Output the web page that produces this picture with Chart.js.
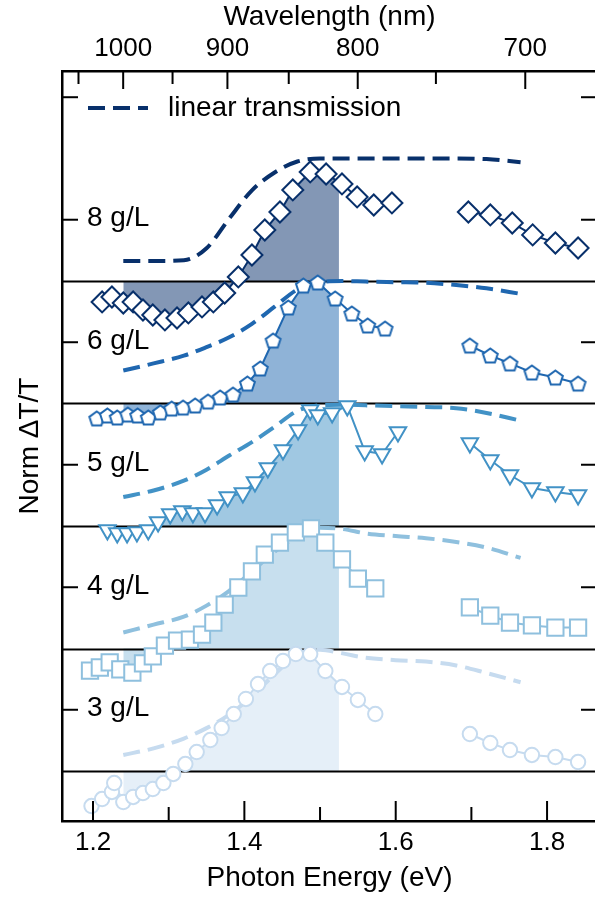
<!DOCTYPE html>
<html>
<head>
<meta charset="utf-8">
<script src="https://cdn.jsdelivr.net/npm/chart.js@4.4.1/dist/chart.umd.min.js"></script>
<style>
  html, body { margin: 0; padding: 0; background: #fff; }
  #wrap { width: 595px; height: 898px; overflow: hidden; }
</style>
</head>
<body>
<div id="wrap"><canvas id="myChart" width="600" height="898"></canvas></div>
<script>
'use strict';

// data (normalised dT/T, one panel per concentration)
let concLabels = ['8 g/L', '6 g/L', '5 g/L', '4 g/L', '3 g/L'];
let panelOffsets = [4, 3, 2, 1, 0];
let seriesColors = ['#08306b', '#1f67b0', '#4292c6', '#8fc0de', '#c6dbef'];
let shadeColors = ['rgba(8,48,107,0.5)', 'rgba(31,103,176,0.5)', 'rgba(66,146,198,0.5)', 'rgba(143,192,222,0.5)', 'rgba(198,219,239,0.45)'];

let e8 = [1.212, 1.225, 1.240, 1.253, 1.266, 1.279, 1.295, 1.311, 1.326, 1.344, 1.359, 1.374, 1.392, 1.410, 1.427, 1.447, 1.464, 1.487, 1.508, 1.529, 1.549, 1.571, 1.595, 1.696, 1.725, 1.754, 1.781, 1.811, 1.841];
let v8 = [-0.171, -0.131, -0.180, -0.171, -0.237, -0.278, -0.318, -0.302, -0.261, -0.212, -0.171, -0.098, 0.033, 0.212, 0.416, 0.563, 0.743, 0.890, 0.873, 0.792, 0.686, 0.620, 0.637, 0.563, 0.539, 0.473, 0.376, 0.310, 0.269];

let e6 = [1.205, 1.219, 1.232, 1.246, 1.259, 1.273, 1.289, 1.304, 1.319, 1.335, 1.352, 1.368, 1.385, 1.404, 1.421, 1.438, 1.458, 1.478, 1.497, 1.520, 1.542, 1.563, 1.586, 1.698, 1.725, 1.751, 1.780, 1.811, 1.841];
let v6 = [-0.122, -0.098, -0.114, -0.090, -0.098, -0.114, -0.073, -0.041, -0.033, -0.016, 0.016, 0.049, 0.073, 0.163, 0.286, 0.514, 0.784, 0.963, 0.988, 0.857, 0.735, 0.637, 0.612, 0.473, 0.392, 0.327, 0.253, 0.212, 0.163];

let e5 = [1.219, 1.232, 1.245, 1.258, 1.273, 1.286, 1.302, 1.318, 1.332, 1.348, 1.364, 1.378, 1.398, 1.414, 1.431, 1.451, 1.471, 1.487, 1.497, 1.516, 1.536, 1.559, 1.582, 1.603, 1.698, 1.725, 1.751, 1.780, 1.811, 1.841];
let v5 = [-0.033, -0.057, -0.057, -0.049, -0.033, 0.033, 0.098, 0.122, 0.106, 0.106, 0.171, 0.237, 0.269, 0.359, 0.473, 0.620, 0.784, 0.947, 0.906, 0.922, 0.980, 0.612, 0.588, 0.767, 0.678, 0.539, 0.416, 0.310, 0.278, 0.253];

let e4 = [1.196, 1.209, 1.222, 1.236, 1.252, 1.266, 1.279, 1.295, 1.311, 1.328, 1.344, 1.359, 1.374, 1.392, 1.410, 1.427, 1.447, 1.468, 1.488, 1.507, 1.529, 1.550, 1.573, 1.698, 1.725, 1.751, 1.780, 1.811, 1.841];
let v4 = [-0.180, -0.155, -0.114, -0.171, -0.196, -0.122, -0.065, 0.024, 0.065, 0.073, 0.114, 0.212, 0.359, 0.498, 0.629, 0.767, 0.865, 0.947, 0.980, 0.865, 0.727, 0.571, 0.490, 0.335, 0.269, 0.212, 0.188, 0.171, 0.171];

let e3 = [1.198, 1.212, 1.225, 1.228, 1.240, 1.253, 1.266, 1.279, 1.293, 1.306, 1.322, 1.337, 1.355, 1.370, 1.386, 1.402, 1.418, 1.434, 1.451, 1.468, 1.487, 1.507, 1.529, 1.550, 1.573, 1.698, 1.725, 1.751, 1.780, 1.811, 1.841];
let v3 = [-0.286, -0.229, -0.171, -0.098, -0.253, -0.212, -0.180, -0.147, -0.098, -0.024, 0.057, 0.155, 0.253, 0.351, 0.465, 0.588, 0.710, 0.816, 0.898, 0.955, 0.955, 0.816, 0.686, 0.580, 0.465, 0.302, 0.229, 0.171, 0.131, 0.114, 0.073];

// linear transmission curves (dashed)
let transE = [1.24, 1.28, 1.32, 1.35, 1.38, 1.41, 1.44, 1.47, 1.50, 1.53, 1.56, 1.60, 1.64, 1.68, 1.72, 1.765];
let t8 = [0.163, 0.163, 0.170, 0.267, 0.510, 0.740, 0.886, 0.975, 1.000, 1.000, 1.000, 1.000, 1.000, 1.000, 0.995, 0.970];
let t6 = [0.269, 0.327, 0.390, 0.460, 0.540, 0.650, 0.790, 0.930, 0.990, 1.000, 0.995, 0.990, 0.985, 0.967, 0.940, 0.895];
let t5 = [0.237, 0.290, 0.370, 0.460, 0.575, 0.685, 0.810, 0.940, 0.985, 0.990, 0.985, 0.978, 0.972, 0.962, 0.923, 0.860];
let t4 = [0.131, 0.195, 0.260, 0.350, 0.470, 0.630, 0.790, 0.915, 0.985, 0.975, 0.940, 0.918, 0.900, 0.870, 0.824, 0.740];
let t3 = [0.131, 0.185, 0.265, 0.350, 0.460, 0.610, 0.790, 0.950, 0.990, 0.960, 0.925, 0.905, 0.893, 0.862, 0.800, 0.725];

// shaded window and the values at its edges
let shadeFrom = 1.24;
let shadeTo = 1.525;
let shadeStartVals = [-0.180, -0.102, -0.057, -0.180, -0.253];
let shadeEndVals = [0.800, 0.829, 0.947, 0.751, 0.710];

// axes
let xMin = 1.159;
let xMax = 1.866;
let yMin = -0.408;
let yMax = 5.714;
let xLabels = [1.2, 1.4, 1.6, 1.8];
let xMinorTicks = [1.3, 1.5, 1.7];
let nmLabels = [1000, 900, 800, 700];
let nmMinorTicks = [1050, 950, 850, 750];
let yTickVals = [0.5, 1.5, 2.5, 3.5, 4.5, 5.5];
let panelLines = [0, 1, 2, 3, 4];

let allE = [e8, e6, e5, e4, e3];
let allV = [v8, v6, v5, v4, v3];
let allT = [t8, t6, t5, t4, t3];

const FONT = "'Liberation Sans', Arial, sans-serif";
const HC = 1239.84;

function pentagonImage(color) {
    let c = document.createElement('canvas');
    c.width = 19;
    c.height = 19;
    let g = c.getContext('2d');
    g.beginPath();
    for (let i = 0; i < 5; i++) {
        let a = -Math.PI / 2 + i * 2 * Math.PI / 5;
        let px = 9.5 + 7.8 * Math.cos(a);
        let py = 10.3 + 7.8 * Math.sin(a);
        if (i === 0) g.moveTo(px, py); else g.lineTo(px, py);
    }
    g.closePath();
    g.fillStyle = '#fff';
    g.fill();
    g.lineWidth = 2;
    g.strokeStyle = color;
    g.stroke();
    return c;
}

let markerStyles = [
    { pointStyle: 'rectRot', radius: 10.5, rotation: 0 },
    { pointStyle: pentagonImage(seriesColors[1]), radius: 8, rotation: 0 },
    { pointStyle: 'triangle', radius: 9.5, rotation: 180 },
    { pointStyle: 'rect', radius: 11.5, rotation: 0 },
    { pointStyle: 'circle', radius: 7.2, rotation: 0 }
];

let datasets = [];

for (let i = 0; i < 5; i++) {
    let off = panelOffsets[i];
    let col = seriesColors[i];
    let pts = allE[i].map((e, k) => ({ x: e, y: allV[i][k] + off }));

    // measured points
    datasets.push({
        label: concLabels[i],
        data: pts,
        borderColor: col,
        borderWidth: 2,
        pointStyle: markerStyles[i].pointStyle,
        pointRadius: markerStyles[i].radius,
        pointRotation: markerStyles[i].rotation,
        pointBorderWidth: 2,
        pointBackgroundColor: '#fff',
        pointBorderColor: col,
        fill: false,
        segment: {
            borderColor: ctx => (ctx.p1.parsed.x - ctx.p0.parsed.x > 0.05 ? 'rgba(0,0,0,0)' : col)
        },
        order: 0
    });

    // linear transmission
    datasets.push({
        label: 'linear transmission ' + concLabels[i],
        data: transE.map((e, k) => ({ x: e, y: allT[i][k] + off })),
        borderColor: col,
        borderWidth: 4,
        borderDash: [17, 8],
        pointRadius: 0,
        cubicInterpolationMode: 'monotone',
        fill: false,
        order: 1
    });

    // shaded area between the data and the panel baseline
    let shade = [{ x: shadeFrom, y: shadeStartVals[i] + off }];
    pts.forEach(p => { if (p.x > shadeFrom && p.x < shadeTo) shade.push(p); });
    shade.push({ x: shadeTo, y: shadeEndVals[i] + off });
    datasets.push({
        label: 'shade ' + concLabels[i],
        data: shade,
        borderColor: 'rgba(0,0,0,0)',
        borderWidth: 0,
        pointRadius: 0,
        backgroundColor: shadeColors[i],
        fill: { value: off },
        order: 2
    });
}

// separator lines, inward ticks, panel labels and legend
let framePlugin = {
    id: 'framePlugin',
    beforeDatasetsDraw(chart) {
        let ctx = chart.ctx;
        let area = chart.chartArea;
        let y = chart.scales.y;
        ctx.save();
        ctx.strokeStyle = '#000';
        ctx.lineWidth = 2;
        panelLines.forEach(v => {
            let py = Math.round(y.getPixelForValue(v)) + 0.5;
            ctx.beginPath();
            ctx.moveTo(area.left, py);
            ctx.lineTo(area.right, py);
            ctx.stroke();
        });
        ctx.restore();
    },
    afterDatasetsDraw(chart) {
        let ctx = chart.ctx;
        let area = chart.chartArea;
        let x = chart.scales.x;
        let y = chart.scales.y;
        ctx.save();
        ctx.strokeStyle = '#000';
        ctx.lineWidth = 2;

        function tick(x1, y1, x2, y2) {
            ctx.beginPath();
            ctx.moveTo(x1, y1);
            ctx.lineTo(x2, y2);
            ctx.stroke();
        }

        yTickVals.forEach(v => {
            let py = y.getPixelForValue(v);
            tick(area.left, py, area.left + 16, py);
            tick(area.right - 16, py, area.right, py);
        });
        xLabels.forEach(v => {
            let px = x.getPixelForValue(v);
            tick(px, area.bottom, px, area.bottom - 20);
        });
        xMinorTicks.forEach(v => {
            let px = x.getPixelForValue(v);
            tick(px, area.bottom, px, area.bottom - 14);
        });
        nmLabels.forEach(l => {
            let px = x.getPixelForValue(HC / l);
            tick(px, area.top, px, area.top + 18);
        });
        nmMinorTicks.forEach(l => {
            let px = x.getPixelForValue(HC / l);
            tick(px, area.top, px, area.top + 13);
        });

        // panel labels
        ctx.fillStyle = '#000';
        ctx.font = '28px ' + FONT;
        ctx.textBaseline = 'middle';
        ctx.textAlign = 'left';
        concLabels.forEach((t, i) => {
            ctx.fillText(t, area.left + 25, y.getPixelForValue(panelOffsets[i] + 0.5) - 1);
        });

        // legend
        let ly = area.top + 37;
        ctx.strokeStyle = seriesColors[0];
        ctx.lineWidth = 4;
        ctx.setLineDash([17, 8]);
        tick(area.left + 26, ly, area.left + 86, ly);
        ctx.setLineDash([]);
        ctx.fillText('linear transmission', area.left + 106, ly);
        ctx.restore();
    }
};

let ctx = document.getElementById('myChart');

new Chart(ctx, {
    type: 'line',
    data: { datasets: datasets },
    options: {
        responsive: false,
        animation: false,
        devicePixelRatio: 1,
        events: [],
        layout: { padding: 0, autoPadding: false },
        plugins: {
            legend: { display: false },
            tooltip: { enabled: false },
            filler: { drawTime: 'beforeDatasetsDraw' }
        },
        scales: {
            x: {
                type: 'linear',
                position: 'bottom',
                min: xMin,
                max: xMax,
                afterBuildTicks: s => { s.ticks = xLabels.map(v => ({ value: v })); },
                afterFit: s => { s.height = 77; },
                grid: { display: false, drawTicks: false },
                border: { display: true, color: '#000', width: 2.5 },
                ticks: {
                    autoSkip: false,
                    maxRotation: 0,
                    padding: 6,
                    color: '#000',
                    font: { family: FONT, size: 26 },
                    callback: v => v.toFixed(1)
                },
                title: {
                    display: true,
                    text: 'Photon Energy (eV)',
                    color: '#000',
                    font: { family: FONT, size: 28 },
                    padding: { top: 0, bottom: 3 }
                }
            },
            x2: {
                type: 'linear',
                position: 'top',
                min: xMin,
                max: xMax,
                afterBuildTicks: s => { s.ticks = nmLabels.map(l => ({ value: HC / l })); },
                afterFit: s => { s.height = 71; },
                grid: { display: false, drawTicks: false },
                border: { display: true, color: '#000', width: 2.5 },
                ticks: {
                    autoSkip: false,
                    maxRotation: 0,
                    padding: 7,
                    color: '#000',
                    font: { family: FONT, size: 26 },
                    callback: v => Math.round(HC / v)
                },
                title: {
                    display: true,
                    text: 'Wavelength (nm)',
                    color: '#000',
                    font: { family: FONT, size: 28 },
                    padding: { top: 0, bottom: 0 }
                }
            },
            y: {
                type: 'linear',
                position: 'left',
                min: yMin,
                max: yMax,
                afterFit: s => { s.width = 62; },
                grid: { display: false, drawTicks: false },
                border: { display: true, color: '#000', width: 2.5 },
                ticks: { display: false },
                title: {
                    display: true,
                    text: 'Norm \u0394T/T',
                    color: '#000',
                    font: { family: FONT, size: 28 },
                    padding: { top: 13, bottom: 0 }
                }
            },
            y2: {
                type: 'linear',
                position: 'right',
                min: yMin,
                max: yMax,
                afterFit: s => { s.width = 3; },
                grid: { display: false, drawTicks: false },
                border: { display: false },
                ticks: { display: false }
            }
        }
    },
    plugins: [framePlugin]
});
</script>
</body>
</html>
